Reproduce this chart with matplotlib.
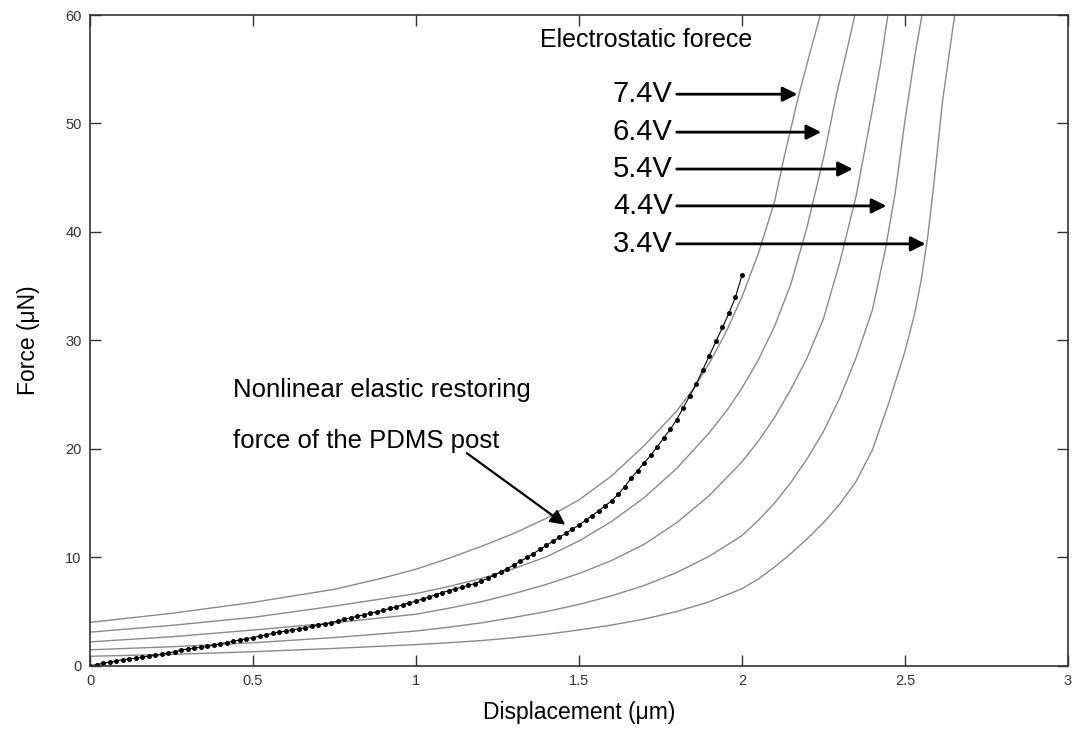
import numpy as np
import matplotlib.pyplot as plt

plt.rcParams['font.family'] = ['Liberation Sans', 'DejaVu Sans']

# Electrostatic force curves (displacement um, force uN)
volt_labels = ['7.4V', '6.4V', '5.4V', '4.4V', '3.4V']

x_74 = [0, 0.25, 0.5, 0.75, 0.8, 0.9, 1.0, 1.1, 1.2, 1.3, 1.4, 1.5, 1.6, 1.7, 1.8,
        1.85, 1.9, 1.95, 2.0, 2.05, 2.1, 2.13, 2.175, 2.21, 2.245]
f_74 = [4.0, 4.83, 5.84, 7.05, 7.4, 8.1, 8.9, 9.9, 11.0, 12.2, 13.6, 15.3, 17.5, 20.3, 23.5,
        25.5, 27.9, 30.7, 34.0, 38.0, 42.8, 47.0, 52.7, 56.7, 60.5]

x_64 = [0, 0.25, 0.5, 0.75, 1.0, 1.1, 1.2, 1.3, 1.4, 1.5, 1.6, 1.7, 1.8, 1.9, 1.955,
        2.0, 2.05, 2.1, 2.15, 2.2, 2.25, 2.29, 2.32, 2.35]
f_64 = [3.1, 3.72, 4.46, 5.5, 6.65, 7.3, 8.05, 8.95, 10.05, 11.5, 13.3, 15.5, 18.2, 21.5, 23.6,
        25.6, 28.2, 31.3, 35.2, 40.5, 46.8, 52.7, 56.5, 60.5]

x_54 = [0, 0.25, 0.5, 0.75, 1.0, 1.1, 1.2, 1.3, 1.4, 1.5, 1.6, 1.7, 1.8, 1.9, 2.0,
        2.05, 2.1, 2.15, 2.2, 2.25, 2.3, 2.35, 2.4, 2.425, 2.45]
f_54 = [2.2, 2.67, 3.29, 3.96, 4.75, 5.3, 5.9, 6.65, 7.5, 8.5, 9.7, 11.2, 13.2, 15.7, 18.8,
        20.7, 22.9, 25.5, 28.4, 32.0, 37.2, 43.3, 51.3, 55.5, 60.5]

x_44 = [0, 0.25, 0.5, 0.75, 1.0, 1.1, 1.2, 1.3, 1.4, 1.5, 1.6, 1.7, 1.8, 1.9, 2.0,
        2.05, 2.1, 2.15, 2.2, 2.25, 2.3, 2.35, 2.4, 2.44, 2.47, 2.5, 2.53, 2.555]
f_44 = [1.47, 1.75, 2.12, 2.6, 3.2, 3.55, 3.95, 4.45, 5.0, 5.65, 6.45, 7.4, 8.6, 10.1, 12.0,
        13.4, 15.0, 16.9, 19.1, 21.6, 24.7, 28.4, 32.8, 38.4, 43.6, 50.3, 56.2, 60.5]

x_34 = [0, 0.25, 0.5, 0.75, 1.0, 1.1, 1.2, 1.3, 1.4, 1.5, 1.6, 1.7, 1.8, 1.9, 2.0,
        2.05, 2.1, 2.15, 2.2, 2.25, 2.3, 2.35, 2.4, 2.45, 2.5, 2.53, 2.55, 2.57, 2.59,
        2.615, 2.635, 2.655]
f_34 = [0.87, 1.05, 1.29, 1.6, 1.95, 2.12, 2.32, 2.58, 2.9, 3.3, 3.75, 4.3, 5.0, 5.9, 7.1,
        8.0, 9.1, 10.35, 11.7, 13.2, 14.9, 17.0, 19.9, 24.2, 29.0, 32.5, 35.6, 39.6, 44.8,
        52.0, 56.3, 60.5]

# PDMS post restoring force, measured points every 0.02 um
x_pdms = np.round(np.arange(0, 2.001, 0.02), 2)
f_pdms = [0.00, 0.10, 0.22, 0.33, 0.45, 0.55, 0.62, 0.70, 0.80, 0.88,
          0.97, 1.05, 1.18, 1.30, 1.45, 1.55, 1.63, 1.70, 1.78, 1.90,
          2.03, 2.14, 2.26, 2.38, 2.50, 2.60, 2.72, 2.85, 2.98, 3.10,
          3.20, 3.30, 3.40, 3.50, 3.62, 3.74, 3.85, 3.98, 4.12, 4.28,
          4.42, 4.56, 4.70, 4.84, 4.98, 5.12, 5.28, 5.45, 5.62, 5.80,
          5.96, 6.15, 6.34, 6.54, 6.74, 6.92, 7.08, 7.24, 7.40, 7.58,
          7.80, 8.06, 8.35, 8.66, 8.96, 9.28, 9.62, 9.98, 10.34, 10.72,
          11.10, 11.46, 11.84, 12.22, 12.60, 12.97, 13.40, 13.84, 14.28, 14.74,
          15.20, 15.80, 16.50, 17.30, 18.00, 18.70, 19.40, 20.20, 21.00, 21.80,
          22.70, 23.80, 24.90, 26.00, 27.30, 28.60, 29.90, 31.20, 32.50, 34.00,
          36.00]

# arrow rows for the voltage labels
arrow_y = [52.7, 49.2, 45.8, 42.4, 38.9]
arrow_tip = [2.17, 2.243, 2.34, 2.443, 2.563]
arrow_start = 1.80

fig = plt.figure(figsize=(10.78, 7.44), dpi=100)
ax = fig.add_axes([0.0835, 0.1052, 0.9072, 0.8746])

for xs, fs in [(x_74, f_74), (x_64, f_64), (x_54, f_54), (x_44, f_44), (x_34, f_34)]:
    ax.plot(xs, fs, color='#8a8a8a', linewidth=1.0)

ax.plot(x_pdms, f_pdms, color='black', linewidth=0.8, marker='o',
        markersize=3.6, markerfacecolor='black', markeredgewidth=0)

ax.set_xlim(0, 3)
ax.set_ylim(0, 60)
ax.set_xticks([0, 0.5, 1, 1.5, 2, 2.5, 3])
ax.set_xticklabels(['0', '0.5', '1', '1.5', '2', '2.5', '3'])
ax.set_yticks([0, 10, 20, 30, 40, 50, 60])
ax.tick_params(direction='in', length=8, width=1, top=True, right=True,
               labelsize=10.5, colors='#333333', pad=6)
for sp in ax.spines.values():
    sp.set_color('#333333')
    sp.set_linewidth(1.2)

ax.set_xlabel('Displacement (μm)', fontsize=16.5, labelpad=9)
ax.set_ylabel('Force (μN)', fontsize=16.5, labelpad=18)

ax.text(1.707, 57.7, 'Electrostatic forece', fontsize=18, ha='center', va='center')

for lab, y, tip in zip(volt_labels, arrow_y, arrow_tip):
    ax.text(1.787, y, lab, fontsize=21, ha='right', va='center')
    ax.annotate('', xy=(tip, y), xytext=(arrow_start, y),
                arrowprops=dict(arrowstyle='-|>', color='black', lw=2,
                                mutation_scale=22, shrinkA=0, shrinkB=0))

ax.text(0.44, 25.4, 'Nonlinear elastic restoring', fontsize=18.5, ha='left', va='center')
ax.text(0.44, 20.7, 'force of the PDMS post', fontsize=18.5, ha='left', va='center')
ax.annotate('', xy=(1.458, 13.0), xytext=(1.156, 19.6),
            arrowprops=dict(arrowstyle='-|>', color='black', lw=1.6,
                            mutation_scale=22, shrinkA=0, shrinkB=0))

fig.savefig('out.png', dpi=100)
